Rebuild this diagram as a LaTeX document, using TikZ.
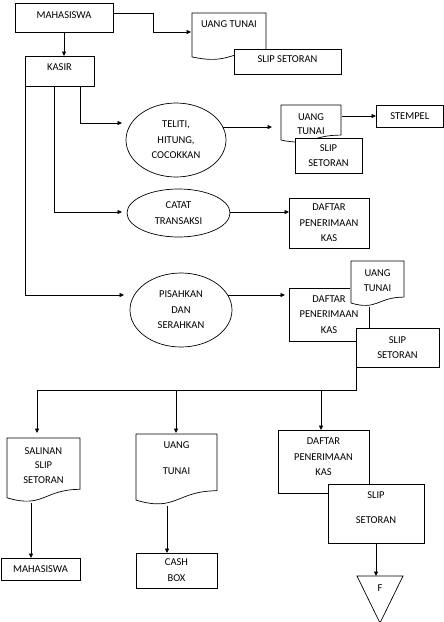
\documentclass[tikz,border=0pt]{standalone}
\usepackage{fontspec}
\setmainfont{Carlito}
\usetikzlibrary{shapes.geometric,arrows.meta,calc,backgrounds}
\begin{document}
\begin{tikzpicture}[x=1pt,y=-1pt,
  lw/.style={line width=0.7pt},
  base/.style={inner sep=0pt, outer sep=0pt, align=center, font=\fontsize{10.5}{15.5}\selectfont, text=black},
  box/.style={base, draw=black, lw, fill=white, rectangle},
  oval/.style={base, draw=black, lw, fill=white, ellipse},
  docu/.style={base, fill=white, rectangle, path picture={
     \draw[line width=0.7pt, black] let \p1=([shift={(1,1)}]path picture bounding box.north west), \p2=([shift={(-1,-1)}]path picture bounding box.south east) in
       (\x1,\y1) -- (\x2,\y1) -- (\x2,{\y1+0.802*(\y2-\y1)}) .. controls ({0.5*(\x1+\x2)},{\y1+0.802*(\y2-\y1)}) and ({0.5*(\x1+\x2)},{\y1+1.1075*(\y2-\y1)}) .. (\x1,{\y1+0.934*(\y2-\y1)}) -- cycle;}},
  arr/.style={lw, -{Triangle[length=4.5pt,width=4pt]}},
  trishape/.style={base, rectangle}
]
\useasboundingbox (0,0) rectangle (444,622);

\node[box, minimum width=98pt, minimum height=29pt] (mhs1) at (64,17.5) {MAHASISWA\\[-11.5pt]\mbox{}};
\node[docu, minimum width=76pt, minimum height=49pt] (ut1) at (229,36.5) {UANG TUNAI\\[9.5pt]\mbox{}};
\node[box, minimum width=107pt, minimum height=25pt] (slip1) at (287.5,61.5) {SLIP SETORAN\\[-11.5pt]\mbox{}};
\node[box, minimum width=69pt, minimum height=30pt] (kasir) at (59.5,71) {KASIR\\[-7.5pt]\mbox{}};

\node[oval, minimum width=100pt, minimum height=74pt] (ell1) at (176,140) {TELITI,\\HITUNG,\\COCOKKAN};
\node[docu, minimum width=62pt, minimum height=39.5pt] (ut2) at (311,123.75) {UANG\\[-1.5pt]TUNAI};
\node[box, minimum width=67pt, minimum height=35pt] (slip2) at (328.5,155.5) {SLIP\\SETORAN};
\node[box, minimum width=67.5pt, minimum height=22pt] (stempel) at (409.75,116) {STEMPEL};

\node[oval, minimum width=103pt, minimum height=48pt] (ell2) at (178.5,213) {CATAT\\TRANSAKSI};
\node[box, minimum width=80pt, minimum height=50pt] (daf1) at (329,223) {DAFTAR\\PENERIMAAN\\KAS};

\node[oval, minimum width=102pt, minimum height=74pt] (ell3) at (181,310) {PISAHKAN\\DAN\\SERAHKAN};
\node[box, minimum width=80pt, minimum height=53pt] (daf2) at (329,314.5) {DAFTAR\\PENERIMAAN\\KAS};
\node[docu, minimum width=55pt, minimum height=47pt] (ut3) at (377.5,283.5) {UANG\\TUNAI\\[-9.5pt]\mbox{}};
\node[box, minimum width=83pt, minimum height=39pt] (slip3) at (397.5,347.5) {SLIP\\SETORAN};

\node[docu, minimum width=75pt, minimum height=66pt] (sal) at (43.5,470) {SALINAN\\[-1pt]SLIP\\[-1pt]SETORAN\\[-6.5pt]\mbox{}};
\node[box, minimum width=79pt, minimum height=22pt] (mhs2) at (40.5,569) {MAHASISWA};
\node[docu, minimum width=83pt, minimum height=72.7pt] (ut4) at (176.5,469.4) {UANG\\[10.5pt]TUNAI\\[7.3pt]\mbox{}};
\node[box, minimum width=81pt, minimum height=35pt] (cash) at (176.5,570.5) {CASH\\[0.5pt]BOX};
\node[box, minimum width=91pt, minimum height=63pt] (daf4) at (323.5,461.5) {DAFTAR\\PENERIMAAN\\KAS\\[-6.5pt]\mbox{}};
\node[box, minimum width=96pt, minimum height=59pt] (slip4) at (376,513.5) {SLIP\\[9.5pt]SETORAN\\[-3.5pt]\mbox{}};
\node[trishape, minimum width=46pt, minimum height=47pt] (tri) at (380,599.5) {F\\[7.5pt]\mbox{}};
\draw[lw] (tri.north west) -- (tri.north east) -- (tri.south) -- cycle;

\coordinate (bus1) at (37,390);
\coordinate (bus2) at (176,390);
\coordinate (bus3) at (321,390);

\begin{pgfonlayer}{background}
\fill[white] (0,0) rectangle (444,622);
\draw[arr] (mhs1.south) -- (mhs1.south |- kasir.north);
\draw[arr] (mhs1.east |- 0,13) -| (153,32) -- (ut1.west |- 0,32);
\draw[arr, shorten >=4pt] (kasir.south -| 80,0) |- (ell1.west |- 0,123);
\draw[arr, shorten >=5pt] (kasir.south -| 54,0) |- (ell2.west |- 0,212);
\draw[arr, shorten >=6pt] (kasir.south west) |- (ell3.west |- 0,295);
\draw[arr, shorten >=8pt] (ell1.center |- 0,127) -- (ut2.west |- 0,127);
\draw[arr] (ut2.center |- stempel.west) -- (stempel.west);
\draw[arr] (ell2.center |- 0,212) -- (daf1.west |- 0,212);
\draw[arr, shorten >=4pt] (ell3.center |- 0,295) -- (daf2.west |- 0,295);
\draw[lw] (slip3.south west) |- (bus1);
\draw[arr, shorten >=4pt] (bus1) -- (bus1 |- sal.north);
\draw[arr] (bus2) -- (bus2 |- ut4.north);
\draw[arr] (bus3) -- (bus3 |- daf4.north);
\draw[arr] (sal.center -| 31,0) -- (mhs2.north -| 31,0);
\draw[arr] (ut4.center -| 167,0) -- (cash.north -| 167,0);
\draw[arr] (slip4.south) -- (slip4.south |- tri.north);
\end{pgfonlayer}
\end{tikzpicture}
\end{document}
